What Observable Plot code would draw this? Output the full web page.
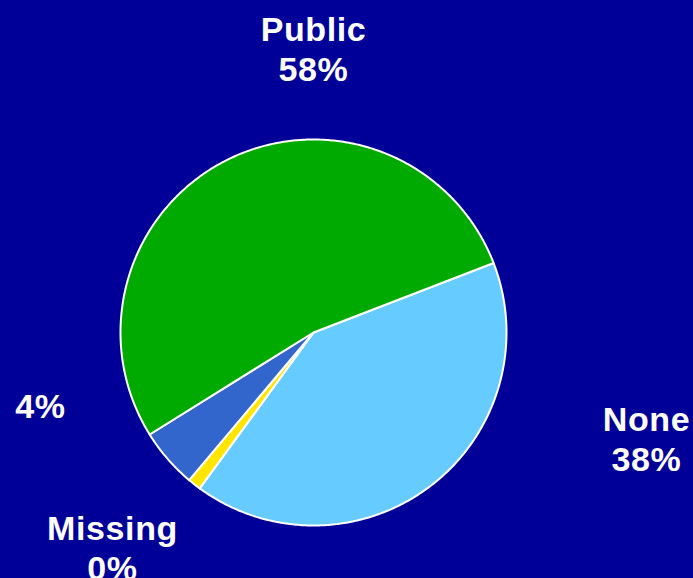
<!DOCTYPE html>
<html>
<head>
<meta charset="utf-8">
<script src="https://cdn.jsdelivr.net/npm/d3@7"></script>
<script src="https://cdn.jsdelivr.net/npm/@observablehq/plot@0.6"></script>
<style>
  html, body { margin: 0; padding: 0; background: #000099; }
  #chart svg { display: block; }
  #chart text { letter-spacing: 0.6px; }
</style>
</head>
<body>
<div id="chart"></div>
<script>
// Data (slice order clockwise starting at the None/Public boundary)
const categories = ["None", "Missing", "Other", "Public"];
const shares = [40.9, 1.1, 5.0, 53.0];          // slice sizes
const labels = ["None\n38%", "Missing\n0%", "4%", "Public\n58%"]; // printed labels
const colors = ["#66CCFF", "#FFE500", "#3366CC", "#00AA00"];

// Layout
const W = 693, H = 578, CX = 313, CY = 332, R = 193;
const startDeg = 68.9;
const labelPx = { None: [646, 437.5], Missing: [112, 546.5], Other: [40, 404], Public: [313, 47.5] };

const pie = d3.pie().sort(null).value(d => d.value)
  .startAngle(startDeg * Math.PI / 180)
  .endAngle(startDeg * Math.PI / 180 + 2 * Math.PI);
const rows = categories.map((c, i) => ({ category: c, value: shares[i], label: labels[i] }));
const arcs = pie(rows);

const pts = [];
for (const a of arcs) {
  const c = a.data.category;
  pts.push({ category: c, x: 0, y: 0 });
  const n = Math.max(4, Math.ceil((a.endAngle - a.startAngle) / 0.01));
  for (let k = 0; k <= n; k++) {
    const t = a.startAngle + (a.endAngle - a.startAngle) * k / n;
    pts.push({ category: c, x: R * Math.sin(t), y: R * Math.cos(t) });
  }
  pts.push({ category: c, x: 0, y: 0 });
}

const textRows = rows.map(r => ({
  label: r.label,
  x: labelPx[r.category][0] - CX,
  y: CY - labelPx[r.category][1]
}));

const chart = Plot.plot({
  width: W, height: H,
  margin: 0,
  style: { background: "#000099", overflow: "visible" },
  x: { domain: [-CX, W - CX], axis: null },
  y: { domain: [-(H - CY), CY], axis: null },
  color: { domain: categories, range: colors },
  marks: [
    Plot.line(pts, { x: "x", y: "y", z: "category", fill: "category", stroke: "white", strokeWidth: 2, curve: "linear" }),
    Plot.text(textRows, {
      x: "x", y: "y", text: "label",
      fill: "white", fontSize: 34, fontWeight: "bold",
      fontFamily: "Liberation Sans, Arial, sans-serif",
      lineHeight: 1.2, lineAnchor: "middle", textAnchor: "middle"
    })
  ]
});
document.getElementById("chart").appendChild(chart);
</script>
</body>
</html>
